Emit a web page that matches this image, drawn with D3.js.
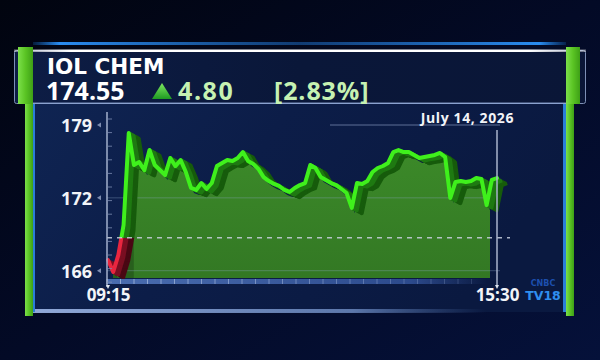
<!DOCTYPE html>
<html><head><meta charset="utf-8">
<script src="https://cdn.jsdelivr.net/npm/d3@7"></script>
<style>
html,body{margin:0;padding:0;background:#020718;}
svg{display:block;}
</style></head>
<body>
<svg id="c" width="600" height="360"></svg>
<script>
// ---------- data ----------
const stockName = "IOL CHEM";
const lastPrice = "174.55";
const change = "4.80";
const changePct = "[2.83%]";
const dateLabel = "July 14, 2026";
const startTime = "09:15";
const endTime = "15:30";
const stepMinutes = 5;
const prices = [167.11,166.09,167.54,170.09,177.92,175.20,175.45,174.75,176.47,175.20,
  174.77,174.34,175.79,175.10,175.62,174.60,173.24,173.07,173.66,173.15,
  173.66,175.11,175.37,175.62,175.54,175.79,176.30,175.54,175.28,174.86,
  174.17,173.83,173.58,173.41,173.07,172.90,173.24,173.49,173.66,175.20,
  174.94,174.17,173.92,173.66,173.49,173.15,172.81,171.54,173.66,173.58,
  173.83,174.60,174.94,175.11,175.37,176.30,176.47,176.30,176.30,176.05,
  175.79,175.88,175.96,176.05,176.22,175.88,172.39,173.75,173.83,173.75,
  173.83,174.09,174.00,171.79,173.92,174.09];
const prevClose = 169.0;
const yTickValues = [166.2, 172.4, 178.6];
const yTickLabels = ["166", "172", "179"];
const xTickLabels = ["09:15", "15:30"];

// ---------- setup ----------
const svg = d3.select("#c");
const defs = svg.append("defs");
const parse = d3.timeParse("%H:%M");
const t0 = parse(startTime), t1 = parse(endTime);
const series = prices.map((v, i) => ({t: d3.timeMinute.offset(t0, i * stepMinutes), v}));

const x = d3.scaleTime().domain([t0, t1]).range([108, 497]);
const y = d3.scaleLinear().domain([yTickValues[0], yTickValues[2]]).range([270.7, 125]);
const plotBottom = 278;

function lg(id, x1, y1, x2, y2, stops) {
  const g = defs.append("linearGradient").attr("id", id)
    .attr("x1", x1).attr("y1", y1).attr("x2", x2).attr("y2", y2);
  stops.forEach(s => g.append("stop").attr("offset", s[0]).attr("stop-color", s[1]).attr("stop-opacity", s[2] == null ? 1 : s[2]));
}
lg("bg", 0, 0, 1, 1, [[0, "#01040f"], [0.5, "#030a26"], [1, "#05113a"]]);
lg("panel", 0, 0, 1, 0.3, [[0, "#0f2452"], [0.45, "#0c1d48"], [1, "#0a1940"]]);
lg("head", 0, 0, 1, 0, [[0, "#0d1d45"], [0.5, "#0a1739"], [1, "#0a1637"]]);
lg("topBlue", 0, 0, 1, 0, [[0, "#1a7be0", 0.2], [0.05, "#2a8cf0", 1], [0.5, "#1f6fc8", 0.5], [0.95, "#2a8cf0", 1], [1, "#1a7be0", 0.2]]);
lg("whiteLine", 0, 0, 1, 0, [[0, "#ffffff", 0.4], [0.1, "#ffffff", 1], [0.9, "#ffffff", 1], [1, "#ffffff", 0.4]]);
lg("bottomGlow", 0, 0, 1, 0, [[0, "#9fb8e8", 0.9], [0.6, "#7f9fd8", 0.7], [0.85, "#5a7fc0", 0.0]]);
lg("green", 0, 0, 1, 0, [[0, "#7ce04a"], [0.5, "#5ac424"], [1, "#3ea016"]]);
lg("tri", 0, 0, 0, 1, [[0, "#7ee860"], [1, "#1e9a22"]]);
lg("axisBand", 0, 0, 1, 0, [[0, "#4a6db0"], [0.8, "#2c4a8c"], [1, "#2c4a8c", 0]]);
lg("areaFill", 0, 0, 0, 1, [[0, "#3f9128"], [1, "#357d22"]]);

svg.append("rect").attr("width", 600).attr("height", 360).attr("fill", "url(#bg)");
svg.append("rect").attr("x", 33).attr("y", 104).attr("width", 533).attr("height", 208).attr("fill", "url(#panel)");
svg.append("rect").attr("x", 33).attr("y", 309).attr("width", 533).attr("height", 4).attr("fill", "url(#bottomGlow)");
svg.append("rect").attr("x", 33).attr("y", 42).attr("width", 533).attr("height", 3).attr("fill", "url(#topBlue)");
svg.append("rect").attr("x", 14.5).attr("y", 50.5).attr("width", 571).attr("height", 53).attr("rx", 2)
  .attr("fill", "url(#head)").attr("stroke", "#7d8fb5").attr("stroke-width", 1);
svg.append("rect").attr("x", 14).attr("y", 49.5).attr("width", 572).attr("height", 2.5).attr("fill", "url(#whiteLine)");
svg.append("rect").attr("x", 30).attr("y", 102.5).attr("width", 540).attr("height", 1.5).attr("fill", "#8ea6d6").attr("opacity", 0.8);

svg.append("rect").attr("x", 18).attr("y", 47).attr("width", 15).attr("height", 57).attr("fill", "url(#green)");
svg.append("rect").attr("x", 25).attr("y", 104).attr("width", 8).attr("height", 212).attr("fill", "url(#green)");
svg.append("rect").attr("x", 33).attr("y", 104).attr("width", 2).attr("height", 208).attr("fill", "#2a7fd8");
svg.append("rect").attr("x", 566).attr("y", 47).attr("width", 14).attr("height", 57).attr("fill", "url(#green)");
svg.append("rect").attr("x", 566).attr("y", 104).attr("width", 8).attr("height", 212).attr("fill", "url(#green)");
svg.append("rect").attr("x", 563).attr("y", 104).attr("width", 3).attr("height", 208).attr("fill", "#2a7fd8");

// header text
svg.append("text").attr("x", 47).attr("y", 74).text(stockName)
  .attr("font-family", "DejaVu Sans").attr("font-weight", "bold").attr("font-size", 21.5).attr("fill", "#ffffff");
const numFont = "Open Sans";
svg.append("text").attr("x", 46).attr("y", 99.5).text(lastPrice)
  .attr("font-family", numFont).attr("font-weight", 700).attr("font-size", 25).attr("fill", "#ffffff");
svg.append("polygon").attr("points", "152,99 162,83 172,99").attr("fill", "url(#tri)");
svg.append("text").attr("x", 178).attr("y", 99.5).text(change)
  .attr("font-family", numFont).attr("font-weight", 700).attr("font-size", 25).attr("letter-spacing", 1.6).attr("fill", "#c6f2b2");
svg.append("text").attr("x", 274).attr("y", 99.5).text(changePct)
  .attr("font-family", numFont).attr("font-weight", 700).attr("font-size", 25).attr("letter-spacing", 0.9).attr("fill", "#c6f2b2");

// ---------- chart ----------
const g = svg.append("g");
const axisX = x(t0) - 1;

g.append("line").attr("x1", 330).attr("x2", 500).attr("y1", y(yTickValues[2])).attr("y2", y(yTickValues[2]))
  .attr("stroke", "#7585ad").attr("stroke-width", 1).attr("opacity", 0.8);

const areaClip = defs.append("clipPath").attr("id", "areaClip");
areaClip.append("rect").attr("x", 113).attr("y", 0).attr("width", 377).attr("height", 400);
const area = d3.area().x(d => x(d.t) + 3).y0(plotBottom).y1(d => y(d.v) + 5).curve(d3.curveLinear);
g.append("path").datum(series).attr("d", area).attr("fill", "url(#areaFill)").attr("opacity", 0.95)
  .attr("clip-path", "url(#areaClip)");
g.append("path").datum(series.slice(0, 5)).attr("d", d3.area().x(d => x(d.t) + 5).y0(plotBottom).y1(d => y(d.v) + 7))
  .attr("fill", "#1f4a18").attr("opacity", 0.55).attr("clip-path", "url(#areaClip)");

[yTickValues[0], yTickValues[1]].forEach(v => {
  g.append("line").attr("x1", axisX).attr("x2", 500).attr("y1", y(v)).attr("y2", y(v))
    .attr("stroke", "#8fa8c8").attr("stroke-width", 1).attr("opacity", 0.35);
});

const yRef = y(prevClose);
defs.append("clipPath").attr("id", "above").append("rect").attr("x", 0).attr("y", 0).attr("width", 600).attr("height", yRef);
defs.append("clipPath").attr("id", "below").append("rect").attr("x", 0).attr("y", yRef).attr("width", 600).attr("height", 400);

const line = d3.line().x(d => x(d.t)).y(d => y(d.v)).curve(d3.curveLinear);
const depth = 12;
const lineG = g.append("g");
function drawLine(clip, dark, mid, bright) {
  const lg2 = lineG.append("g").attr("clip-path", `url(#${clip})`);
  for (let k = depth; k >= 1; k--) {
    lg2.append("path").datum(series).attr("d", line)
      .attr("transform", `translate(${k * 0.85},${k * 0.45})`)
      .attr("fill", "none").attr("stroke", k > depth / 2 ? dark : mid).attr("stroke-width", 3.5)
      .attr("stroke-linejoin", "round");
  }
  lg2.append("path").datum(series).attr("d", line)
    .attr("fill", "none").attr("stroke", bright).attr("stroke-width", 4)
    .attr("stroke-linejoin", "round").attr("stroke-linecap", "round");
}
drawLine("below", "#4a0814", "#7a0f22", "#e8263f");
drawLine("above", "#175c0c", "#1f7a12", "#3ff01c");

g.append("line").attr("x1", axisX).attr("x2", 510).attr("y1", yRef).attr("y2", yRef)
  .attr("stroke", "#c9d1e0").attr("stroke-width", 1.5).attr("stroke-dasharray", "5,5").attr("opacity", 0.85);

g.append("rect").attr("x", axisX).attr("y", 279).attr("width", 380).attr("height", 5).attr("fill", "url(#axisBand)");
const minor = d3.range(0, 28).map(i => axisX + 13.5 * i);
g.selectAll(".bt").data(minor).join("line").attr("x1", d => d).attr("x2", d => d).attr("y1", 279).attr("y2", 284)
  .attr("stroke", "#a9bde0").attr("stroke-width", 1).attr("opacity", d => 0.8 - (d - axisX) / 600);

g.append("line").attr("x1", axisX).attr("x2", axisX).attr("y1", 112).attr("y2", 287)
  .attr("stroke", "#a3b0cc").attr("stroke-width", 1.5);
const yMinor = d3.range(0, 13).map(i => 119 + 13.6 * i);
g.selectAll(".yt").data(yMinor).join("line").attr("x1", axisX).attr("x2", axisX + 5).attr("y1", d => d).attr("y2", d => d)
  .attr("stroke", "#7d8db3").attr("stroke-width", 1).attr("opacity", 0.8);

const yAxis = d3.axisLeft(y).tickValues(yTickValues).tickFormat((d, i) => yTickLabels[i]).tickSize(0).tickPadding(0);
const ya = g.append("g").attr("transform", `translate(92,0)`).call(yAxis);
ya.select(".domain").remove();
ya.selectAll("text").attr("font-family", numFont).attr("font-weight", 700).attr("font-size", 18)
  .attr("fill", "#f2f4f8").attr("dy", "0.36em").attr("x", 0);
yTickValues.forEach(v => {
  g.append("polygon").attr("points", `${97},${y(v)} ${101},${y(v) - 2.5} ${101},${y(v) + 2.5}`).attr("fill", "#7d8cb0");
});

g.append("line").attr("x1", x(t1)).attr("x2", x(t1)).attr("y1", 130).attr("y2", 287)
  .attr("stroke", "#aab4cc").attr("stroke-width", 1.5);

const xAxis = d3.axisBottom(x).tickValues([t0, t1]).tickFormat((d, i) => xTickLabels[i]).tickSize(0).tickPadding(0);
const xa = g.append("g").attr("transform", "translate(0,301)").call(xAxis);
xa.select(".domain").remove();
xa.selectAll("text").attr("font-family", numFont).attr("font-weight", 700).attr("font-size", 17)
  .attr("fill", "#f2f4f8").attr("dy", 0).attr("y", 0);
[t0, t1].forEach(t => {
  g.append("polygon").attr("points", `${x(t) - 2},${285} ${x(t) + 2},${285} ${x(t)},${289}`).attr("fill", "#e0e6f0");
});

g.append("text").attr("x", 514).attr("y", 123).attr("text-anchor", "end").text(dateLabel)
  .attr("font-family", numFont).attr("font-weight", 700).attr("font-size", 14).attr("letter-spacing", 0.6).attr("fill", "#f2f4f8");

svg.append("text").attr("x", 543).attr("y", 286).attr("text-anchor", "middle").text("CNBC")
  .attr("font-family", "DejaVu Sans").attr("font-weight", "bold").attr("font-size", 8).attr("fill", "#1d4fae");
svg.append("text").attr("x", 543).attr("y", 300).attr("text-anchor", "middle").text("TV18")
  .attr("font-family", "DejaVu Sans").attr("font-weight", "bold").attr("font-size", 12.5).attr("fill", "#2f8ff0");
</script>
</body></html>
